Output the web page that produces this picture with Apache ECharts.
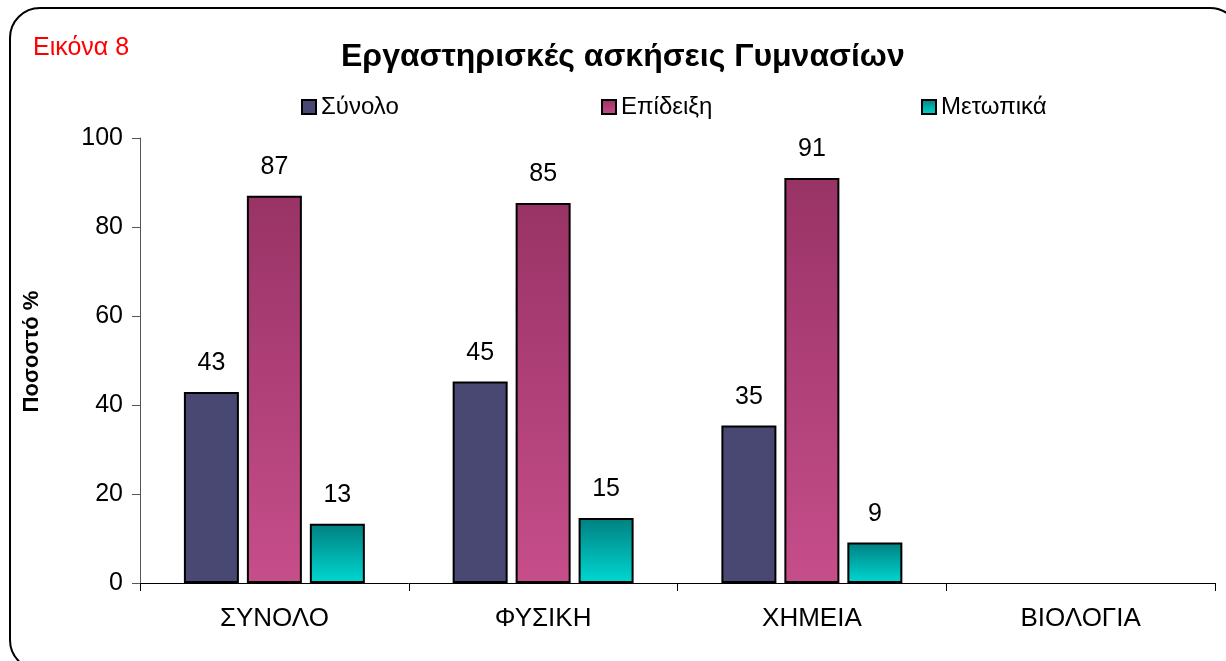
<!DOCTYPE html>
<html>
<head>
<meta charset="utf-8">
<script src="https://cdn.jsdelivr.net/npm/echarts@6/dist/echarts.min.js"></script>
<style>
  html, body { margin: 0; padding: 0; background: #fff; }
  #main { width: 1226px; height: 661px; }
</style>
</head>
<body>
<div id="main"></div>
<script>
const categories = ['ΣΥΝΟΛΟ', 'ΦΥΣΙΚΗ', 'ΧΗΜΕΙΑ', 'ΒΙΟΛΟΓΙΑ'];
const seriesNames = ['Σύνολο', 'Επίδειξη', 'Μετωπικά'];
const synolo = [42.9, 45.3, 35.4, null];
const epideixi = [87, 85.4, 91, null];
const metopika = [13.3, 14.6, 9.1, null];
const yTicks = [0, 20, 40, 60, 80, 100];

const font = 'Liberation Sans, Arial, sans-serif';
const dom = document.getElementById('main');
const myChart = echarts.init(dom);

function grad(top, bottom) {
  return new echarts.graphic.LinearGradient(0, 0, 0, 1, [
    { offset: 0, color: top },
    { offset: 1, color: bottom },
  ]);
}

const colors = [
  '#484873',
  grad('#993366', '#c64e8a'),
  grad('#008080', '#00d8d2'),
];

function makeSeries(name, data, color) {
  return {
    name: name,
    type: 'bar',
    data: data,
    barWidth: 55,
    barGap: '14.5%',
    itemStyle: { color: color, borderColor: '#000', borderWidth: 2 },
    label: {
      show: true,
      position: 'top',
      distance: 16,
      fontFamily: font,
      fontSize: 25,
      color: '#000',
      formatter: (p) => Math.round(p.value),
    },
  };
}

const legendLefts = [296, 596, 916];

myChart.setOption({
  animation: false,
  title: [
    {
      text: 'Εργαστηρισκές ασκήσεις Γυμνασίων',
      left: 336,
      top: 36,
      textStyle: { fontFamily: font, fontSize: 32, fontWeight: 'bold', color: '#000' },
    },
    {
      text: 'Εικόνα 8',
      left: 28,
      top: 31,
      textStyle: { fontFamily: font, fontSize: 25, fontWeight: 'normal', color: '#ff0000' },
    },
  ],
  legend: seriesNames.map((n, i) => ({
    data: [n],
    left: legendLefts[i],
    top: 90,
    icon: 'rect',
    itemWidth: 14,
    itemHeight: 14,
    itemGap: 6,
    textStyle: { fontFamily: font, fontSize: 24, color: '#000' },
  })),
  graphic: [
    {
      type: 'rect',
      silent: true,
      shape: { x: 10, y: 8, width: 1230, height: 662, r: 30 },
      style: { fill: 'none', stroke: '#000', lineWidth: 2 },
      z: -1,
    },
  ],
  grid: { left: 140, right: 11, top: 138, bottom: 78 },
  xAxis: {
    type: 'category',
    data: categories,
    axisLine: { lineStyle: { color: '#000', width: 1 } },
    axisTick: { show: true, length: 8, inside: false, lineStyle: { color: '#000' } },
    axisLabel: { fontFamily: font, fontSize: 26, color: '#000', margin: 23 },
  },
  yAxis: {
    type: 'value',
    min: 0,
    max: 100,
    interval: 20,
    name: 'Ποσοστό %',
    nameLocation: 'middle',
    nameRotate: 90,
    nameGap: 97,
    nameTextStyle: { fontFamily: font, fontSize: 22, fontWeight: 'bold', color: '#000', padding: [0, 0, 0, 18] },
    axisLine: { show: true, lineStyle: { color: '#555', width: 1 } },
    axisTick: { show: true, length: 8, lineStyle: { color: '#555' } },
    splitLine: { show: false },
    axisLabel: {
      fontFamily: font,
      fontSize: 25,
      color: '#000',
      margin: 17,
      formatter: (v) => (yTicks.includes(v) ? String(v) : ''),
    },
  },
  series: [
    makeSeries(seriesNames[0], synolo, colors[0]),
    makeSeries(seriesNames[1], epideixi, colors[1]),
    makeSeries(seriesNames[2], metopika, colors[2]),
  ],
});
</script>
</body>
</html>
